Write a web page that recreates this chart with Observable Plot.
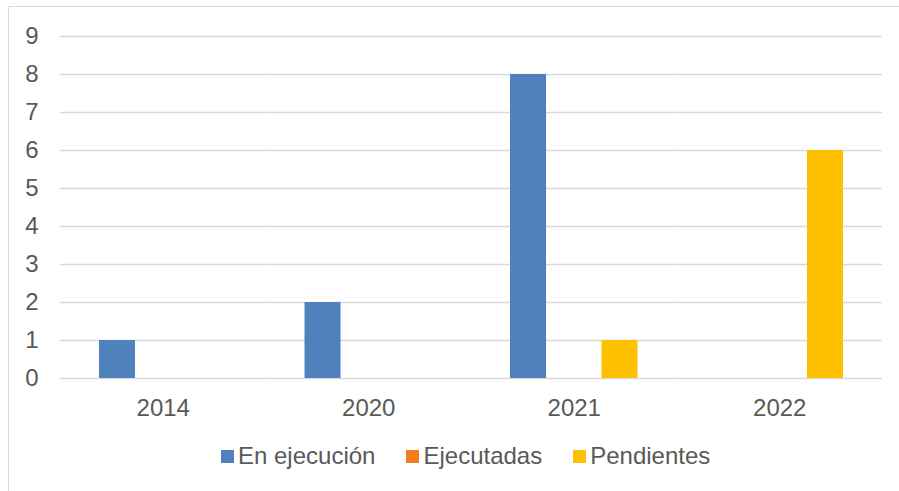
<!DOCTYPE html>
<html>
<head>
<meta charset="utf-8">
<script src="https://cdn.jsdelivr.net/npm/d3@7"></script>
<script src="https://cdn.jsdelivr.net/npm/@observablehq/plot@0.6"></script>
<style>
  html, body { margin: 0; padding: 0; background: #fff; }
  body { width: 899px; height: 491px; position: relative; overflow: hidden; font-family: "Liberation Sans", Arial, sans-serif; }
  #frame { position: absolute; left: 8px; top: 6px; width: 905px; height: 500px; border: 1px solid #d9d9d9; box-sizing: border-box; }
  #chart { position: absolute; left: 0; top: 0; }
  #legend { position: absolute; left: 221px; top: 442px; display: flex; align-items: center; font-size: 24px; color: #595959; white-space: nowrap; }
  .item { display: flex; align-items: center; margin-right: 31px; }
  .sw { width: 13px; height: 13px; margin-right: 4px; }
</style>
</head>
<body>
<div id="frame"></div>
<div id="chart"></div>
<div id="legend"></div>
<script>
const years = ["2014", "2020", "2021", "2022"];
const seriesNames = ["En ejecución", "Ejecutadas", "Pendientes"];
const enEjecucion = [1, 2, 8, 0];
const ejecutadas = [0, 0, 0, 0];
const pendientes = [0, 0, 1, 6];
const seriesColors = ["#4F81BD", "#F57B20", "#FFC000"];
const yTicks = [0, 1, 2, 3, 4, 5, 6, 7, 8, 9];

const seriesValues = [enEjecucion, ejecutadas, pendientes];
const data = [];
years.forEach((yr, i) => {
  seriesNames.forEach((s, j) => {
    data.push({year: yr, series: s, value: seriesValues[j][i]});
  });
});

const chart = Plot.plot({
  width: 899,
  height: 430,
  marginLeft: 60,
  marginRight: 17,
  marginTop: 36,
  marginBottom: 52,
  style: {fontFamily: "'Liberation Sans', Arial, sans-serif", fontSize: "24px", color: "#595959", background: "transparent"},
  fx: {domain: years, padding: 0, round: false, label: null, axis: "bottom", tickSize: 0, tickPadding: 20},
  x: {domain: seriesNames, paddingInner: 0.212, paddingOuter: 0.853, round: false, axis: null},
  y: {domain: [0, 9], ticks: yTicks, label: null, tickSize: 0, tickPadding: 22, tickFormat: d => String(d)},
  color: {domain: seriesNames, range: seriesColors},
  marks: [
    Plot.ruleY(yTicks, {stroke: "#d9d9d9", strokeWidth: 1.3}),
    Plot.barY(data, {fx: "year", x: "series", y: "value", fill: "series"})
  ]
});
document.getElementById("chart").appendChild(chart);

const legend = document.getElementById("legend");
seriesNames.forEach((s, j) => {
  const item = document.createElement("div");
  item.className = "item";
  const sw = document.createElement("div");
  sw.className = "sw";
  sw.style.background = seriesColors[j];
  const label = document.createElement("span");
  label.textContent = s;
  item.appendChild(sw);
  item.appendChild(label);
  legend.appendChild(item);
});
</script>
</body>
</html>
